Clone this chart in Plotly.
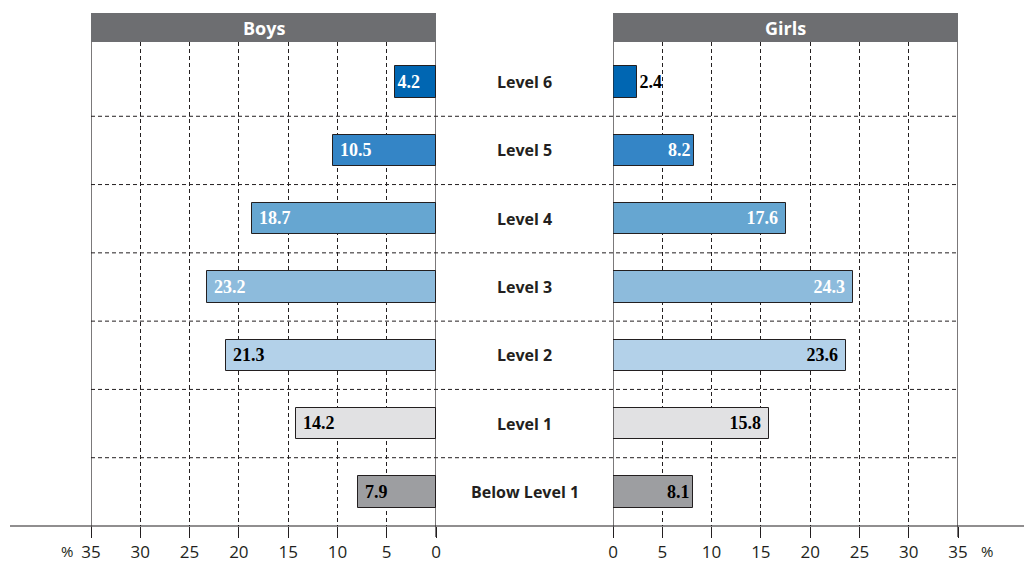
import plotly.graph_objects as go

levels = ["Below Level 1", "Level 1", "Level 2", "Level 3", "Level 4", "Level 5", "Level 6"]
boys = [7.9, 14.2, 21.3, 23.2, 18.7, 10.5, 4.2]
girls = [8.1, 15.8, 23.6, 24.3, 17.6, 8.2, 2.4]
bar_colors = ["#9d9ea1", "#e1e1e3", "#b3d1e9", "#8dbbdc", "#66a6d1", "#3485c6", "#0066b2"]
text_colors = ["black", "black", "black", "white", "white", "white", "white"]
tick_vals = [0, 5, 10, 15, 20, 25, 30, 35]

W, H = 1024, 562
NB = "\u00a0"


def px_x(p):
    return p / W


def px_y(p):
    return 1 - p / H


value_font = dict(family="Liberation Serif", size=18)
label_font = "Open Sans"

fig = go.Figure()

fig.add_trace(go.Bar(
    x=boys, y=levels, orientation="h", xaxis="x", yaxis="y",
    marker=dict(color=bar_colors, line=dict(color="#231f20", width=1)),
    width=0.46,
    text=[f"{NB if v > 6 else ''}<b>{v:.1f}</b>" for v in boys],
    textposition="inside", insidetextanchor="end",
    textfont=dict(family=value_font["family"], size=value_font["size"], color=text_colors),
    cliponaxis=False, showlegend=False,
))

girls_pos = ["outside" if v < 4 else "inside" for v in girls]
fig.add_trace(go.Bar(
    x=girls, y=levels, orientation="h", xaxis="x2", yaxis="y",
    marker=dict(color=bar_colors, line=dict(color="#231f20", width=1)),
    width=0.46,
    text=[f"<b>{v:.1f}</b>{NB if v > 10 else ''}" for v in girls],
    textposition=girls_pos, insidetextanchor="end",
    textfont=dict(family=value_font["family"], size=value_font["size"],
                  color=[c if p == "inside" else "black" for c, p in zip(text_colors, girls_pos)]),
    outsidetextfont=dict(family=value_font["family"], size=value_font["size"], color="black"),
    cliponaxis=False, showlegend=False,
))

axis_common = dict(
    tickvals=tick_vals, showgrid=True, gridcolor="#231f20", gridwidth=1,
    griddash="4px,3px", zeroline=False, ticks="outside", ticklen=11,
    tickcolor="#231f20", tickwidth=1, showline=False, automargin=False,
    tickfont=dict(family=label_font, size=17, color="#231f20"),
)

fig.update_layout(
    width=W, height=H,
    margin=dict(l=0, r=0, t=0, b=0),
    plot_bgcolor="white", paper_bgcolor="white",
    bargap=0,
    xaxis=dict(domain=[px_x(91), px_x(436)], range=[35, 0], anchor="y", **axis_common),
    xaxis2=dict(domain=[px_x(613), px_x(958)], range=[0, 35], anchor="y", **axis_common),
    yaxis=dict(domain=[px_y(526), px_y(42)], range=[-0.5, 6.5 + 6 / 68.4],
               categoryorder="array", categoryarray=levels, showticklabels=False,
               showgrid=False, zeroline=False, ticks="", automargin=False),
)

shapes = []
# horizontal separators between levels
for i in range(len(levels) - 1):
    shapes.append(dict(type="line", xref="paper", yref="y", x0=px_x(91), x1=px_x(958),
                       y0=i + 0.5, y1=i + 0.5, line=dict(color="#231f20", width=1, dash="4px,3px")))
# solid panel edges
for xr in ["x", "x2"]:
    for xv in [0, 35]:
        shapes.append(dict(type="line", xref=xr, yref="paper", x0=xv, x1=xv,
                           y0=px_y(537), y1=px_y(42), line=dict(color="#231f20", width=1.2)))
# baseline
shapes.append(dict(type="line", xref="paper", yref="paper", x0=px_x(10), x1=1,
                   y0=px_y(526), y1=px_y(526), line=dict(color="#231f20", width=1.2)))
# header bars
for x0, x1 in [(91, 436), (613, 958)]:
    shapes.append(dict(type="rect", xref="paper", yref="paper", x0=px_x(x0), x1=px_x(x1),
                       y0=px_y(42), y1=px_y(13), fillcolor="#6d6e71", line=dict(width=0), layer="above"))
fig.update_layout(shapes=shapes)

annotations = []
for name, xc in [("Boys", 263.5), ("Girls", 785.5)]:
    annotations.append(dict(text=f"<b>{name}</b>", xref="paper", yref="paper", x=px_x(xc), y=px_y(27.5),
                            showarrow=False, font=dict(family=label_font, size=18, color="white"),
                            xanchor="center", yanchor="middle"))
for lv in levels:
    annotations.append(dict(text=f"<b>{lv}</b>", xref="paper", yref="y", x=px_x(524.5), y=lv,
                            showarrow=False, font=dict(family=label_font, size=16, color="#231f20"),
                            xanchor="center", yanchor="middle"))
for xc in [67, 987]:
    annotations.append(dict(text="%", xref="paper", yref="paper", x=px_x(xc), y=px_y(551),
                            showarrow=False, font=dict(family=label_font, size=15, color="#231f20"),
                            xanchor="center", yanchor="middle"))
fig.update_layout(annotations=annotations)

fig.write_html("out.html", config={"displayModeBar": False},
               post_script="document.body.style.margin='0';")
